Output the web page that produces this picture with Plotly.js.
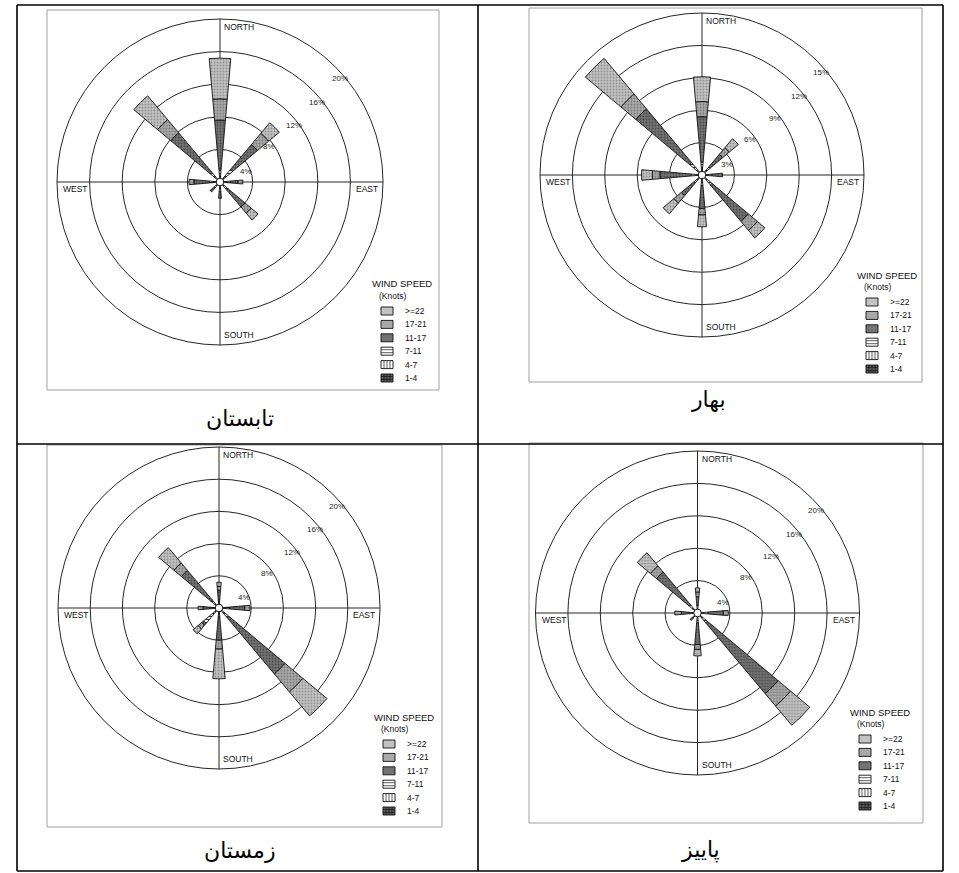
<!DOCTYPE html>
<html><head><meta charset="utf-8">
<script src="https://cdn.plot.ly/plotly-3.0.1.min.js"></script>
<style>html,body{margin:0;padding:0;background:#fff}#chart{width:959px;height:873px}</style>
</head><body><div id="chart"></div>
<script>
// Directions (degrees, clockwise from north): N, NE, E, SE, S, SW, W, NW
const directions = [0, 45, 90, 135, 180, 225, 270, 315];
const speedClasses = ['1-4', '4-7', '7-11', '11-17', '17-21', '>=22'];
const legendLabels = ['>=22', '17-21', '11-17', '7-11', '4-7', '1-4'];
const legendTitle = 'WIND SPEED';
const legendSubtitle = '(Knots)';
const compassLabels = ['NORTH', 'EAST', 'SOUTH', 'WEST'];

// Summer (تابستان) – percent frequency per speed class
const summer_1_4   = [0.3, 0.3, 0.3, 0.3, 0.3, 0.3, 0.3, 0.3];
const summer_4_7   = [0.5, 0.5, 0.4, 0.4, 0.4, 0.3, 0.4, 0.5];
const summer_7_11  = [0.8, 1.2, 0.6, 0.6, 0.5, 0.4, 0.6, 0.8];
const summer_11_17 = [6.0, 4.0, 0.9, 2.7, 0.8, 0.6, 1.9, 6.3];
const summer_17_21 = [2.6, 1.8, 0.6, 1.0, 0, 0, 0.6, 2.1];
const summer_22    = [5.0, 1.7, 0, 1.1, 0, 0, 0, 3.8];
const summerRings  = [4, 8, 12, 16, 20];
const summerRingLabels = ['4%', '8%', '12%', '16%', '20%'];

// Spring (بهار)
const spring_1_4   = [0.2, 0.2, 0.2, 0.2, 0.2, 0.2, 0.2, 0.3];
const spring_4_7   = [0.4, 0.3, 0.3, 0.4, 0.3, 0.3, 0.3, 0.5];
const spring_7_11  = [0.6, 0.5, 0.4, 0.6, 0.5, 0.5, 0.5, 0.7];
const spring_11_17 = [4.2, 1.5, 1.0, 4.4, 2.1, 1.5, 2.9, 6.5];
const spring_17_21 = [1.4, 0.8, 0, 1.1, 0.6, 0.9, 0.7, 1.8];
const spring_22    = [2.3, 1.1, 0, 0.9, 1.1, 1.3, 1.0, 4.3];
const springRings  = [3, 6, 9, 12, 15];
const springRingLabels = ['3%', '6%', '9%', '12%', '15%'];

// Winter (زمستان)
const winter_1_4   = [0.2, 0, 0.3, 0.3, 0.2, 0.2, 0.2, 0.3];
const winter_4_7   = [0.3, 0, 0.4, 0.5, 0.4, 0.5, 0.3, 0.4];
const winter_7_11  = [0.5, 0, 0.6, 0.8, 0.6, 1.8, 0.5, 0.6];
const winter_11_17 = [1.2, 0, 1.9, 9.1, 2.8, 0.3, 1.0, 4.8];
const winter_17_21 = [0.5, 0, 0.65, 2.9, 1.1, 0.6, 0.6, 1.2];
const winter_22    = [0.5, 0, 0, 3.9, 3.7, 0.8, 0, 2.5];
const winterRings  = [4, 8, 12, 16, 20];
const winterRingLabels = ['4%', '8%', '12%', '16%', '20%'];

// Autumn (پاییز)
const autumn_1_4   = [0.2, 0, 0.3, 0.3, 0.2, 0.2, 0.2, 0.3];
const autumn_4_7   = [0.3, 0, 0.4, 0.5, 0.4, 0.3, 0.3, 0.4];
const autumn_7_11  = [0.5, 0, 0.6, 0.8, 0.6, 0.3, 0.5, 0.6];
const autumn_11_17 = [1.0, 0, 1.9, 11.4, 2.7, 0.4, 1.0, 5.3];
const autumn_17_21 = [0.6, 0, 0.6, 2.0, 0.6, 0, 0.8, 1.0];
const autumn_22    = [0.5, 0, 0, 3.1, 0.8, 0, 0, 2.1];
const autumnRings  = [4, 8, 12, 16, 20];
const autumnRingLabels = ['4%', '8%', '12%', '16%', '20%'];

const captions = ['تابستان', 'بهار', 'زمستان', 'پاییز'];

// ---------- styles & layout geometry ----------
const W = 959, H = 873;
const px = x => x / W, py = y => 1 - y / H;

const classStyles = [
  {bg: '#5a5a5a', fg: '#1e1e1e', shape: '+', size: 4, sol: 0.25},
  {bg: '#ffffff', fg: '#333333', shape: '|', size: 3, sol: 0.35},
  {bg: '#ffffff', fg: '#333333', shape: '-', size: 3, sol: 0.35},
  {bg: '#737373', fg: '#4a4a4a', shape: '.', size: 3, sol: 0.3},
  {bg: '#a9a9a9', fg: '#7a7a7a', shape: '.', size: 3, sol: 0.3},
  {bg: '#c3c3c3', fg: '#8e8e8e', shape: '.', size: 3, sol: 0.3}
];

const panels = [
  {id: 'polar',  cx: 220,   cy: 182, r: 163, rings: summerRings, ringLabels: summerRingLabels,
   data: [summer_1_4, summer_4_7, summer_7_11, summer_11_17, summer_17_21, summer_22],
   leg: {x: 402, y: 284}, frame: [47, 10, 439, 390], cap: {x: 240, y: 418}},
  {id: 'polar2', cx: 702,   cy: 175, r: 162, rings: springRings, ringLabels: springRingLabels,
   data: [spring_1_4, spring_4_7, spring_7_11, spring_11_17, spring_17_21, spring_22],
   leg: {x: 887, y: 275}, frame: [529, 8, 922, 382], cap: {x: 708, y: 400}},
  {id: 'polar3', cx: 219,   cy: 608, r: 161, rings: winterRings, ringLabels: winterRingLabels,
   data: [winter_1_4, winter_4_7, winter_7_11, winter_11_17, winter_17_21, winter_22],
   leg: {x: 404, y: 717}, frame: [47, 445, 442, 827], cap: {x: 240, y: 850}},
  {id: 'polar4', cx: 697.5, cy: 613, r: 162, rings: autumnRings, ringLabels: autumnRingLabels,
   data: [autumn_1_4, autumn_4_7, autumn_7_11, autumn_11_17, autumn_17_21, autumn_22],
   leg: {x: 880, y: 712}, frame: [529, 443, 923, 823], cap: {x: 700, y: 850}}
];

const traces = [];
const layout = {
  width: W, height: H,
  margin: {l: 0, r: 0, t: 0, b: 0},
  paper_bgcolor: '#ffffff',
  showlegend: false,
  shapes: [], annotations: []
};
const labelFont = {family: 'Liberation Sans, Arial, sans-serif', size: 8, color: '#222'};

panels.forEach((p, pi) => {
  p.data.forEach((vals, ci) => {
    const st = classStyles[ci];
    traces.push({
      type: 'barpolar', subplot: p.id, name: speedClasses[ci],
      theta: directions, r: vals.map(v => v > 0 ? v : null), width: 10,
      marker: {color: st.bg, line: {color: '#111', width: 0.9},
               pattern: {shape: st.shape, bgcolor: st.bg, fgcolor: st.fg, size: st.size, solidity: st.sol}},
      hoverinfo: 'skip'
    });
  });
  const maxR = p.rings[p.rings.length - 1];
  layout[p.id] = {
    domain: {x: [px(p.cx - p.r), px(p.cx + p.r)], y: [py(p.cy + p.r), py(p.cy - p.r)]},
    bgcolor: 'rgba(0,0,0,0)', barmode: 'stack',
    radialaxis: {range: [0, maxR], tickvals: p.rings, showticklabels: false, ticks: '',
                 showline: false, gridcolor: '#262626', gridwidth: 1},
    angularaxis: {rotation: 90, direction: 'clockwise', tickmode: 'array', tickvals: [0, 90, 180, 270],
                  showticklabels: false, ticks: '', showline: true, linecolor: '#262626', linewidth: 1,
                  gridcolor: '#262626', gridwidth: 1}
  };
  const f = p.frame;
  layout.shapes.push({type: 'rect', xref: 'paper', yref: 'paper', layer: 'below',
    x0: px(f[0]), x1: px(f[2]), y0: py(f[3]), y1: py(f[1]), line: {color: '#a0a0a0', width: 1}});
  const cr = 3.8;
  layout.shapes.push({type: 'circle', xref: 'paper', yref: 'paper', layer: 'above',
    x0: px(p.cx - cr), x1: px(p.cx + cr), y0: py(p.cy + cr), y1: py(p.cy - cr),
    fillcolor: '#ffffff', line: {color: '#111', width: 1}});
  const cf = {family: 'Liberation Sans, Arial, sans-serif', size: 8.5, color: '#111'};
  const comp = [
    {text: compassLabels[0], x: p.cx + 2, y: p.cy - p.r + 8, xa: 'left'},
    {text: compassLabels[1], x: p.cx + p.r - 3, y: p.cy + 7, xa: 'right'},
    {text: compassLabels[2], x: p.cx + 2, y: p.cy + p.r - 10, xa: 'left'},
    {text: compassLabels[3], x: p.cx - p.r + 4, y: p.cy + 7, xa: 'left'}
  ];
  comp.forEach(c => layout.annotations.push({text: c.text, xref: 'paper', yref: 'paper', showarrow: false,
    x: px(c.x), y: py(c.y), xanchor: c.xa, yanchor: 'middle', font: cf}));
  p.ringLabels.forEach((t, i) => {
    const rr = p.r * p.rings[i] / maxR;
    const ang = (i === 0 ? 22 : 36 + (i - 1) * 1.6) * Math.PI / 180;
    const d = rr - 5;
    layout.annotations.push({text: t, xref: 'paper', yref: 'paper', showarrow: false,
      x: px(p.cx + d * Math.cos(ang)), y: py(p.cy - d * Math.sin(ang)),
      xanchor: 'center', yanchor: 'middle', font: labelFont});
  });
  const lf = {family: 'Liberation Sans, Arial, sans-serif', size: 8.5, color: '#111'};
  layout.annotations.push({text: legendTitle, xref: 'paper', yref: 'paper', showarrow: false,
    x: px(p.leg.x), y: py(p.leg.y), xanchor: 'center', yanchor: 'middle',
    font: {family: 'Liberation Sans, Arial, sans-serif', size: 9.5, color: '#111'}});
  layout.annotations.push({text: legendSubtitle, xref: 'paper', yref: 'paper', showarrow: false,
    x: px(p.leg.x - 9), y: py(p.leg.y + 12), xanchor: 'center', yanchor: 'middle', font: lf});
  legendLabels.forEach((lab, j) => {
    const yy = p.leg.y + 27 + j * 13.4;
    const sx = p.leg.x - 15;
    const st = classStyles[5 - j];
    layout.shapes.push({type: 'rect', xref: 'paper', yref: 'paper', layer: 'above',
      x0: px(sx - 6), x1: px(sx + 6), y0: py(yy + 4), y1: py(yy - 4),
      fillcolor: st.bg, line: {color: '#111', width: 0.9}});
    if (st.shape === '-' || st.shape === '+') {
      [-1.5, 1.5].forEach(o => layout.shapes.push({type: 'line', xref: 'paper', yref: 'paper', layer: 'above',
        x0: px(sx - 6), x1: px(sx + 6), y0: py(yy + o), y1: py(yy + o), line: {color: st.fg, width: 0.8}}));
    }
    if (st.shape === '|' || st.shape === '+') {
      [-3, 0, 3].forEach(o => layout.shapes.push({type: 'line', xref: 'paper', yref: 'paper', layer: 'above',
        x0: px(sx + o), x1: px(sx + o), y0: py(yy + 4), y1: py(yy - 4), line: {color: st.fg, width: 0.8}}));
    }
    layout.annotations.push({text: lab, xref: 'paper', yref: 'paper', showarrow: false,
      x: px(p.leg.x + 1), y: py(yy), xanchor: 'left', yanchor: 'middle', font: lf});
  });
  layout.annotations.push({text: captions[pi], xref: 'paper', yref: 'paper', showarrow: false,
    x: px(p.cap.x), y: py(p.cap.y), xanchor: 'center', yanchor: 'middle',
    font: {family: 'DejaVu Sans, sans-serif', size: 22, color: '#000'}});
});

const tableX = [17, 478, 943];
const tableY = [5, 444, 871];
tableX.forEach(x => layout.shapes.push({type: 'line', xref: 'paper', yref: 'paper', layer: 'above',
  x0: px(x), x1: px(x), y0: py(tableY[0]), y1: py(tableY[2]), line: {color: '#000', width: 1.6}}));
tableY.forEach(y => layout.shapes.push({type: 'line', xref: 'paper', yref: 'paper', layer: 'above',
  x0: px(tableX[0]), x1: px(tableX[2]), y0: py(y), y1: py(y), line: {color: '#000', width: 1.6}}));

Plotly.newPlot('chart', traces, layout, {staticPlot: true});
</script></body></html>
